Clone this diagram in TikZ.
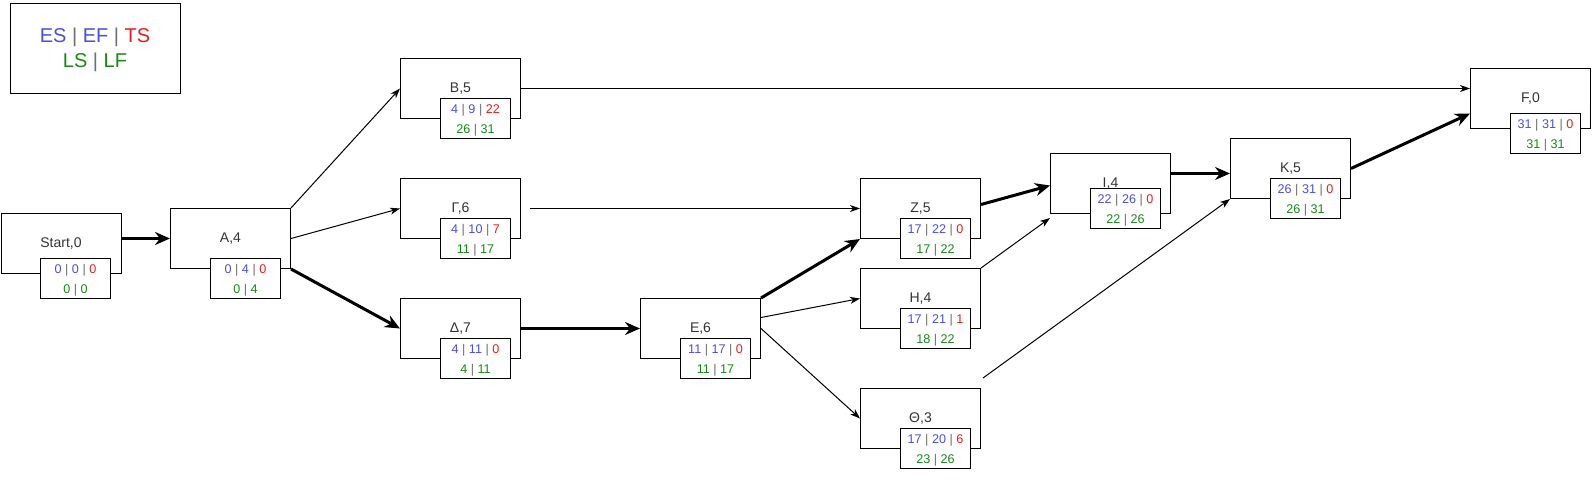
\documentclass[tikz,border=0pt]{standalone}
\usepackage{fontspec}
\setmainfont{Liberation Sans}
\usetikzlibrary{arrows.meta}
\definecolor{cb}{RGB}{77,77,230}
\definecolor{cr}{RGB}{230,30,30}
\definecolor{cg}{RGB}{20,140,20}
\definecolor{cbar}{RGB}{110,110,110}
\definecolor{clab}{RGB}{51,51,51}
\newcommand\bsep{ \textcolor{cbar}{|} }
\newcommand\pcell[5]{\textcolor{cb}{#1}\bsep\textcolor{cb}{#2}\bsep\textcolor{cr}{#3}\\\textcolor{cg}{#4}\bsep\textcolor{cg}{#5}}
\tikzset{
  actbox/.style={draw=black, line width=1pt, fill=white, minimum width=120pt, minimum height=60pt, inner sep=0pt, anchor=north west, text=clab, font=\fontsize{14}{16}\selectfont},
  valbox/.style={draw=black, line width=1pt, fill=white, minimum width=70pt, minimum height=40pt, inner sep=0pt, anchor=north west},
  valtext/.style={align=center, inner sep=0pt, font=\fontsize{12.6}{20}\selectfont},
  thin/.style={draw=black, line width=1pt, -{Stealth[length=10pt,width=7pt,inset=3pt]}},
  thick/.style={draw=black, line width=3pt, -{Stealth[length=15pt,width=13pt,inset=5pt]}},
}
\begin{document}
\begin{tikzpicture}[x=1pt,y=-1pt]
\useasboundingbox (0,0) rectangle (1592,487);
\fill[white] (0,0) rectangle (1592,487);
% legend
\node[draw=black, line width=1pt, minimum width=170pt, minimum height=90pt, inner sep=0pt, anchor=north west] (leg) at (10,3) {};
\node[align=center, inner sep=0pt, font=\fontsize{20}{25}\selectfont] (legt) at (95,50) {\textcolor{cb}{ES}\bsep\textcolor{cb}{EF}\bsep\textcolor{cr}{TS}\\\textcolor{cg}{LS}\bsep\textcolor{cg}{LF}};
% activity boxes
\node[actbox] (S) at (0.5,213) {Start,0};
\node[actbox] (A) at (170,208) {A,4};
\node[actbox] (B) at (400,58) {B,5};
\node[actbox] (G) at (400,178) {Γ,6};
\node[actbox] (D) at (400,298) {Δ,7};
\node[actbox] (E) at (640,298) {E,6};
\node[actbox] (Z) at (860,178) {Z,5};
\node[actbox] (H) at (860,268) {H,4};
\node[actbox] (T) at (860,388) {Θ,3};
\node[actbox] (I) at (1050,153) {I,4};
\node[actbox] (K) at (1230,138) {K,5};
\node[actbox] (F) at (1470,68) {F,0};
% value boxes
\node[valbox] (Si) at (40,258) {};
\node[valbox] (Ai) at (210,258) {};
\node[valbox] (Bi) at (440,98) {};
\node[valbox] (Gi) at (440,218) {};
\node[valbox] (Di) at (440,338) {};
\node[valbox] (Ei) at (680,338) {};
\node[valbox] (Zi) at (900,218) {};
\node[valbox] (Hi) at (900,308) {};
\node[valbox] (Ti) at (900,428) {};
\node[valbox] (Ii) at (1090,188) {};
\node[valbox] (Ki) at (1270,178) {};
\node[valbox] (Fi) at (1510,113) {};
\foreach \n/\a/\b/\c/\d/\e in {Si/0/0/0/0/0, Ai/0/4/0/0/4, Bi/4/9/22/26/31, Gi/4/10/7/11/17, Di/4/11/0/4/11, Ei/11/17/0/11/17, Zi/17/22/0/17/22, Hi/17/21/1/18/22, Ti/17/20/6/23/26, Ii/22/26/0/22/26, Ki/26/31/0/26/31, Fi/31/31/0/31/31}
  \node[valtext] (\n t) at ([yshift=-2pt]\n.center) {\pcell{\a}{\b}{\c}{\d}{\e}};
% connectors
\draw[thick] ([yshift=5pt]S.east) -- (A.west);
\draw[thin] (A.north east) -- (B.west);
\draw[thin] (A.east) -- (G.west);
\draw[thick] (A.south east) -- (D.west);
\draw[thin] (B.east) -- ([yshift=10pt]F.west);
\draw[thin] ([xshift=9pt]G.east) -- (Z.west);
\draw[thick] (D.east) -- (E.west);
\draw[thick] (E.north east) -- (Z.south west);
\draw[thin] ([yshift=11pt]E.east) -- (H.west);
\draw[thin] (E.east) -- (T.west);
\draw[thick] ([yshift=4pt]Z.east) -- ([yshift=-2pt]I.west);
\draw[thin] (H.north east) -- ([yshift=-4pt]I.south west);
\draw[thin] ([shift={(2pt,10pt)}]T.north east) -- (K.south west);
\draw[thick] ([yshift=10pt]I.east) -- ([yshift=-5pt]K.west);
\draw[thick] (K.east) -- ([yshift=-15pt]F.west);
\end{tikzpicture}
\end{document}
